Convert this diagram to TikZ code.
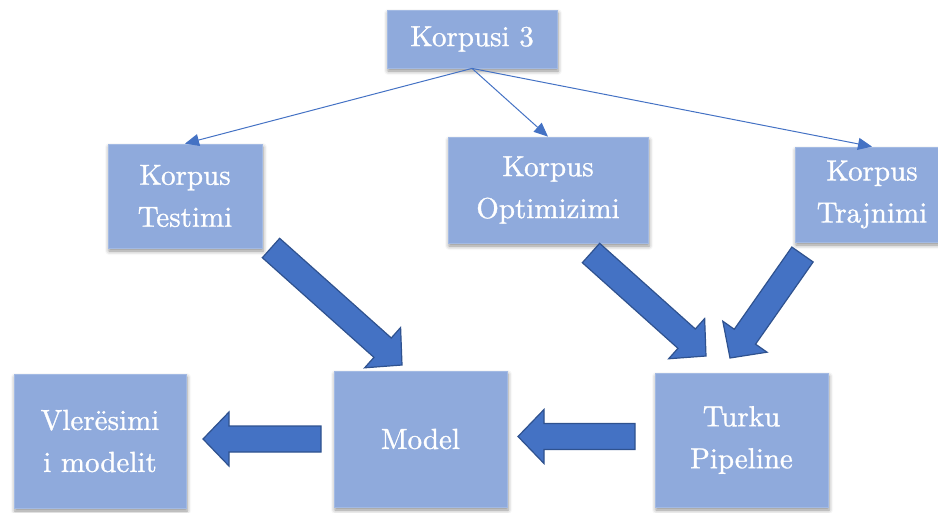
\documentclass[tikz,border=0pt]{standalone}
\usepackage{fontspec}
\setmainfont{lmroman10-regular}[Extension=.otf, FakeBold=1]
\usetikzlibrary{arrows.meta,calc,shadows.blur}

\definecolor{boxfill}{HTML}{8FAADC}
\definecolor{boxedge}{HTML}{A3BAE3}
\definecolor{accent}{HTML}{4472C4}
\definecolor{accentdark}{HTML}{2F528F}

% broad block arrow from tail point #1 to tip point #2
\newcommand\blockarrow[2]{%
  \coordinate (hb) at ($(#2)!26pt!(#1)$);
  \draw[fatarrow]
    ($(#1)!13pt!90:(#2)$) -- ($(hb)!13pt!-90:(#1)$) -- ($(hb)!27pt!-90:(#1)$)
    -- (#2)
    -- ($(hb)!27pt!90:(#1)$) -- ($(hb)!13pt!90:(#1)$) -- ($(#1)!13pt!-90:(#2)$)
    -- cycle;}

\begin{document}
\begin{tikzpicture}[x=1pt,y=-1pt,
  box/.style={fill=boxfill, draw=boxedge, line width=0.8pt, text=white,
    font=\rmfamily\fontsize{29}{42}\selectfont, align=center, inner sep=0pt,
    blur shadow={shadow xshift=1pt, shadow yshift=-3pt,
      shadow blur radius=4pt, shadow opacity=45}},
  thin/.style={draw=accent, line width=1pt,
    -{Triangle[length=14pt,width=12pt]}},
  fatarrow/.style={fill=accent, draw=accentdark, line width=1.2pt,
    line join=miter}]

\useasboundingbox (0,0) rectangle (938,512);

% boxes
\node[box, minimum width=170pt, minimum height=58pt]  (k3)    at (472,39)    {Korpusi 3};
\node[box, minimum width=154pt, minimum height=104pt] (test)  at (185,196)   {Korpus\\Testimi};
\node[box, minimum width=200pt, minimum height=106pt] (opt)   at (548,190)   {Korpus\\Optimizimi};
\node[box, minimum width=154pt, minimum height=95pt]  (train) at (872,194.5) {Korpus\\Trajnimi};
\node[box, minimum width=172pt, minimum height=134pt] (eval)  at (100,441)   {Vlerësimi\\i modelit};
\node[box, minimum width=173pt, minimum height=136pt] (model) at (420.5,439) {Model};
\node[box, minimum width=173pt, minimum height=134pt] (turku) at (741.5,440) {Turku\\Pipeline};

% thin connectors from the corpus to its three parts
\draw[thin] (k3.south) -- (test.north);
\draw[thin] (k3.south) -- (opt.north);
\draw[thin] (k3.south) -- (train.north);

% end points of the block arrows
\coordinate (testOut)  at (271,248);
\coordinate (modelIn)  at (402,365);
\coordinate (optOut)   at (591,253);
\coordinate (turkuInA) at (706,356);
\coordinate (trainOut) at (802.5,254.5);
\coordinate (turkuInB) at (730,358);
\coordinate (turkuOut) at (635,436.5);
\coordinate (modelInR) at (518,436.5);
\coordinate (modelOut) at (321,439);
\coordinate (evalIn)   at (203,439);

\blockarrow{testOut}{modelIn}
\blockarrow{optOut}{turkuInA}
\blockarrow{trainOut}{turkuInB}
\blockarrow{turkuOut}{modelInR}
\blockarrow{modelOut}{evalIn}

\end{tikzpicture}
\end{document}
